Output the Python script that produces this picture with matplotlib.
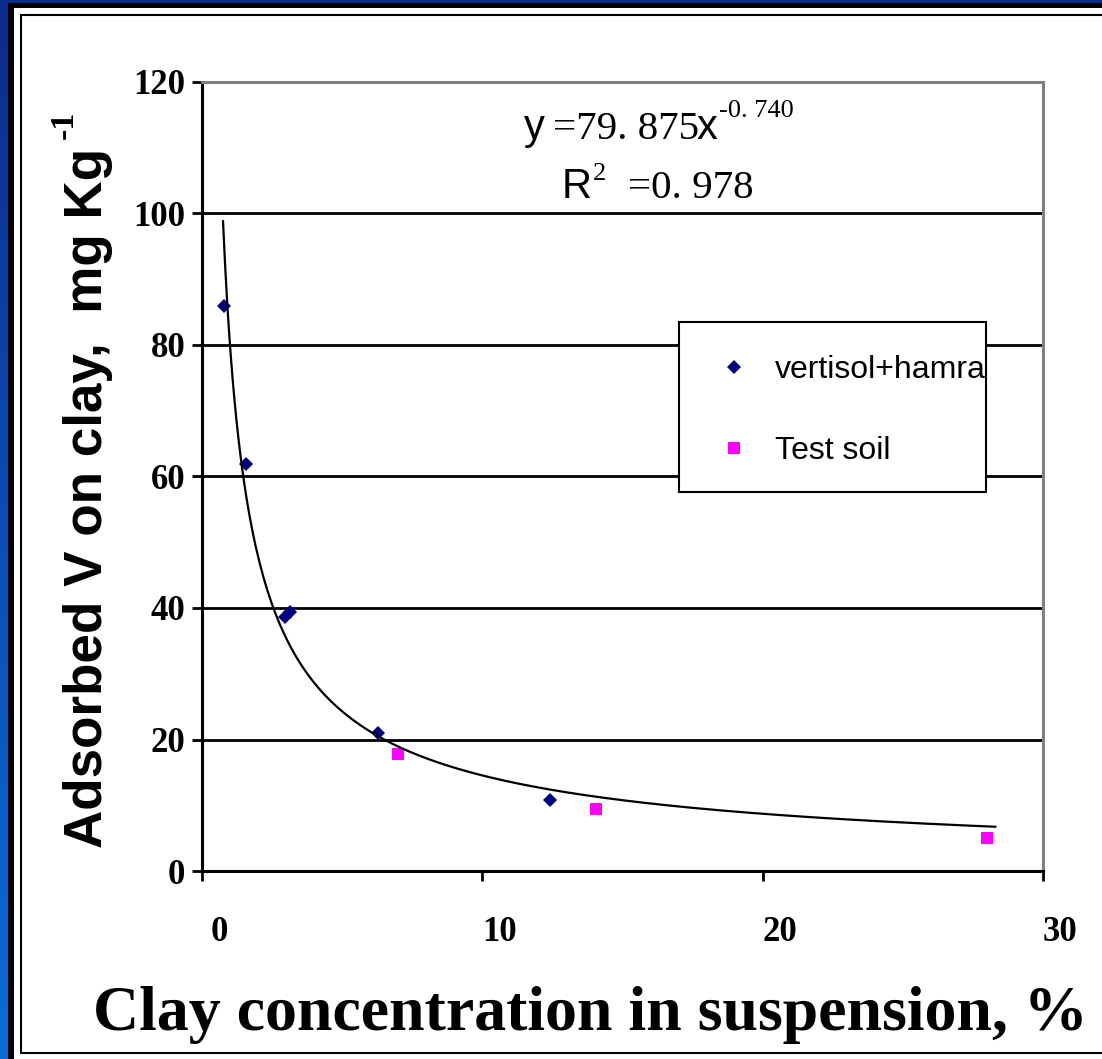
import numpy as np
import matplotlib
matplotlib.use("Agg")
import matplotlib.pyplot as plt
from matplotlib.patches import Rectangle
from matplotlib.colors import LinearSegmentedColormap
from matplotlib.font_manager import FontProperties
import matplotlib.transforms as mtransforms

# ---------------- data ----------------
vert_x = [0.78, 1.57, 2.96, 3.14, 6.28, 12.41]
vert_y = [85.9, 61.9, 38.6, 39.4, 21.0, 10.8]
test_x = [6.99, 14.06, 28.0]
test_y = [17.8, 9.4, 5.0]
fit_a, fit_b = 79.875, -0.740
fit_xmin, fit_xmax = 0.75, 28.3
x_ticks = [0, 10, 20, 30]
y_ticks = [0, 20, 40, 60, 80, 100, 120]
series_labels = ["vertisol+hamra", "Test soil"]

W, H = 1102, 1059
fig = plt.figure(figsize=(W / 100, H / 100), dpi=100)

def fx(x):
    return x / W

def fy(y):
    return (H - y) / H

# ---------------- background frame ----------------
bg = fig.add_axes([0, 0, 1, 1])
bg.set_xlim(0, W)
bg.set_ylim(H, 0)
bg.axis("off")
grad = np.linspace(0, 1, 256).reshape(-1, 1)
cmap = LinearSegmentedColormap.from_list("b", ["#0a2c8a", "#0b4db6", "#0a6cd8"])
bg.imshow(grad, extent=[0, W, H, 0], aspect="auto", cmap=cmap)
bg.add_patch(Rectangle((8, 3), W, H, fc="black", ec="none"))
bg.add_patch(Rectangle((14, 8), W, H, fc="white", ec="none"))
bg.add_patch(Rectangle((21, 15), W, 1053 - 15, fc="white", ec="black", lw=1.5))

# ---------------- main axes ----------------
ax = fig.add_axes([202 / W, 188 / H, 841 / W, 789 / H])
ax.set_facecolor("none")
ax.set_xlim(0, 30)
ax.set_ylim(0, 120)

for s in ["left", "bottom"]:
    ax.spines[s].set_color("black")
    ax.spines[s].set_linewidth(2.2)
for s in ["top", "right"]:
    ax.spines[s].set_color("#808080")
    ax.spines[s].set_linewidth(2.2)

for yv in y_ticks[1:-1]:
    ax.axhline(yv, color="black", lw=2.0, zorder=1)

ax.set_xticks(x_ticks)
ax.set_yticks(y_ticks)
tick_fp = FontProperties(family="Liberation Serif", weight="bold", size=25)
ax.tick_params(axis="y", direction="out", length=7, width=2, pad=5, color="black")
ax.tick_params(axis="x", direction="out", length=7.5, width=2, pad=25, color="black")
ax.set_xticklabels([str(v) for v in x_ticks], fontproperties=tick_fp)
ax.set_yticklabels([str(v) for v in y_ticks], fontproperties=tick_fp)
offset = mtransforms.ScaledTranslation(17 / 100, 0, fig.dpi_scale_trans)
for lab in ax.get_xticklabels():
    lab.set_transform(lab.get_transform() + offset)

# trend line
xf = np.linspace(fit_xmin, fit_xmax, 400)
yf = fit_a * xf ** fit_b

ax.plot(vert_x, vert_y, ls="none", marker="D", ms=7, color="#000080", mew=0,
        label=series_labels[0], zorder=3)
ax.plot(test_x, test_y, ls="none", marker="s", ms=8.5, color="#ff00ff", mew=0,
        label=series_labels[1], zorder=3)
ax.plot(xf, yf, color="black", lw=1.6, zorder=3.5)

# legend
lx0, lx1, ly0, ly1 = 679, 986, 322, 492
ax.add_patch(Rectangle(((lx0 - 202) / 841, (871 - ly1) / 789), (lx1 - lx0) / 841,
                       (ly1 - ly0) / 789, transform=ax.transAxes, fc="white",
                       ec="black", lw=1.5, zorder=4))
leg = ax.legend(loc="upper left", bbox_to_anchor=((lx0 - 202) / 841, (871 - ly0) / 789),
                borderaxespad=0, frameon=False, borderpad=1.03, handlelength=1.375,
                handletextpad=0.6, labelspacing=1.6, numpoints=1,
                prop=FontProperties(family="Liberation Sans", size=23))
leg.set_zorder(5)

# ---------------- labels ----------------
fig.text(fx(590), fy(1030), "Clay concentration in suspension, %",
         fontproperties=FontProperties(family="Liberation Serif", weight="bold", size=46.0),
         ha="center", va="baseline")
fig.text(fx(102), fy(848), "Adsorbed V on clay,  mg Kg",
         fontproperties=FontProperties(family="Liberation Sans", weight="bold", size=38.2),
         rotation=90, rotation_mode="anchor", ha="left", va="baseline")
fig.text(fx(73), fy(139), "-1",
         fontproperties=FontProperties(family="Liberation Serif", weight="bold", size=24.5),
         rotation=90, rotation_mode="anchor", ha="left", va="baseline")

# equation pieces
sans_big = FontProperties(family="Liberation Sans", size=30)
serif_big = FontProperties(family="Liberation Serif", size=29.5)
serif_sup = FontProperties(family="Liberation Serif", size=19)
pieces = [
    ("y", sans_big, 524, 139),
    ("=79. 875", serif_big, 553, 139),
    ("x", sans_big, 697, 139),
    ("-0. 740", serif_sup, 719, 117),
    ("R", sans_big, 562, 198),
    ("2", serif_sup, 593, 180),
    ("=0. 978", serif_big, 628, 198),
]
for s, fp, x, y in pieces:
    fig.text(fx(x), fy(y), s, fontproperties=fp, ha="left", va="baseline")

fig.savefig("out.png", dpi=100)
